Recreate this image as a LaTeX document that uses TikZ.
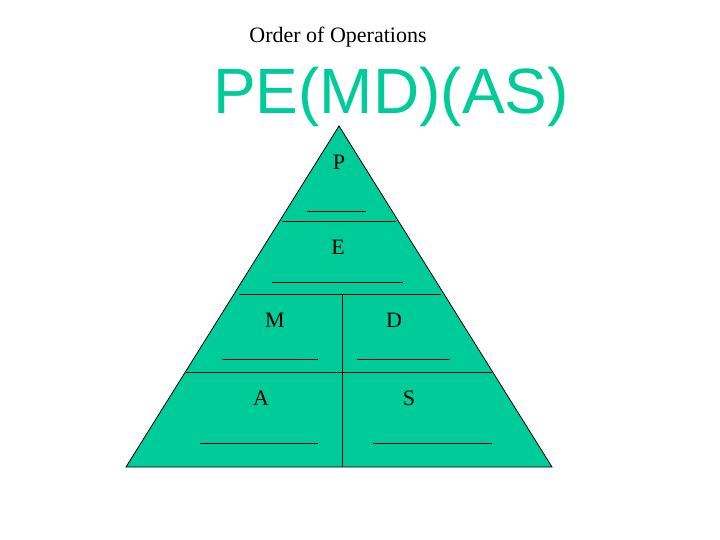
\documentclass[tikz,border=0pt]{standalone}
\usepackage{fontspec}
\setmainfont{Liberation Serif}
\newfontfamily\arialf{Liberation Sans}
\definecolor{teal1}{HTML}{00CC99}
\begin{document}
\begin{tikzpicture}[x=1pt,y=-1pt,
 lbl/.style={font=\fontsize{22}{24}\selectfont},
 ul/.style={line width=0.8pt}]
\useasboundingbox (0,0) rectangle (720,540);
\node[lbl] (title) at (338,37) {Order of Operations};
\node[font=\arialf\fontsize{64}{70}\selectfont,text=teal1] (big) at (391,97) {PE(MD)(AS)};
\coordinate (top) at (339,126);
\coordinate (bl) at (126,467);
\coordinate (br) at (552,467);
\draw[fill=teal1,line width=0.8pt] (top) -- (br) -- (bl) -- cycle;
\draw[line width=0.8pt] (282,221) -- (396,221);
\draw[line width=0.8pt] (239,294) -- (441,294);
\draw[line width=0.8pt] (186,372) -- (492,372);
\draw[line width=0.8pt] (342,294) -- (342,467);
\node[lbl] (p) at (339,162) {P};
\node[lbl] (e) at (338,247) {E};
\node[lbl] (m) at (275,320) {M};
\node[lbl] (d) at (394,320) {D};
\node[lbl] (a) at (261,398) {A};
\node[lbl] (s) at (409,398) {S};
\draw[ul] (307,211) -- (366,211);
\draw[ul] (272,282) -- (403,282);
\draw[ul] (222,359) -- (318,359);
\draw[ul] (357,359) -- (450,359);
\draw[ul] (200,443) -- (318,443);
\draw[ul] (373,443) -- (492,443);
\end{tikzpicture}
\end{document}
